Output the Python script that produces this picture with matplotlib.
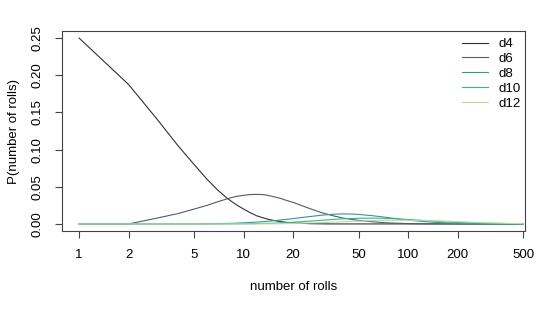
import numpy as np
import matplotlib
matplotlib.use("Agg")
import matplotlib.pyplot as plt

plt.rcParams["font.family"] = ["Liberation Sans", "DejaVu Sans"]

# number of rolls (log axis) and probabilities
rolls = [1, 2, 3, 4, 5, 6, 7, 8, 9, 10, 11, 12, 13, 14, 15, 16, 17, 18, 19, 20,
         25, 30, 35, 40, 45, 50, 60, 70, 80, 100, 120, 150, 200, 300, 400, 500]
d4 = [0.25, 0.1875, 0.14, 0.105, 0.08, 0.06, 0.045, 0.034, 0.026, 0.02,
      0.015, 0.011, 0.0085, 0.0065, 0.005, 0.0038, 0.003, 0.0023, 0.0018, 0.0014,
      0.0004, 0.0001, 0, 0, 0, 0, 0, 0, 0, 0, 0, 0, 0, 0, 0, 0]
d6 = [0, 0, 0.008, 0.014, 0.02, 0.025, 0.03, 0.034, 0.037, 0.0385,
      0.0395, 0.0398, 0.0395, 0.0385, 0.037, 0.0355, 0.034, 0.032, 0.0305, 0.029,
      0.021, 0.015, 0.011, 0.008, 0.0062, 0.0048, 0.003, 0.0018, 0.0012, 0.0005,
      0.0002, 0.0001, 0, 0, 0, 0]
d8 = [0, 0, 0, 0, 0, 0.0002, 0.0004, 0.0007, 0.001, 0.0015,
      0.002, 0.0025, 0.003, 0.0036, 0.0042, 0.0048, 0.0055, 0.006, 0.0066, 0.0072,
      0.0098, 0.0118, 0.013, 0.0135, 0.0133, 0.0128, 0.0112, 0.0095, 0.0078, 0.0052,
      0.0035, 0.002, 0.0008, 0.0002, 0.0001, 0]
d10 = [0, 0, 0, 0, 0, 0, 0, 0, 0.0001, 0.0002,
       0.0003, 0.0005, 0.0006, 0.0008, 0.001, 0.0012, 0.0015, 0.0018, 0.002, 0.0023,
       0.0037, 0.005, 0.006, 0.0068, 0.0073, 0.0076, 0.0078, 0.0076, 0.0071, 0.006,
       0.0049, 0.0035, 0.002, 0.0007, 0.0003, 0.0001]
d12 = [0, 0, 0, 0, 0, 0, 0, 0, 0, 0,
       0, 0, 0.0001, 0.0001, 0.0002, 0.0002, 0.0003, 0.0004, 0.0005, 0.0006,
       0.0012, 0.0018, 0.0024, 0.003, 0.0034, 0.0038, 0.0044, 0.0048, 0.005, 0.005,
       0.0047, 0.0041, 0.0031, 0.0016, 0.0008, 0.0004]

series = [("d4", d4), ("d6", d6), ("d8", d8), ("d10", d10), ("d12", d12)]
colors = ["#2f2f3f", "#54596e", "#2f9a96", "#3bb38f", "#bcd99c"]

xticks = [1, 2, 5, 10, 20, 50, 100, 200, 500]
yticks = [0.00, 0.05, 0.10, 0.15, 0.20, 0.25]

W, H = 540, 309
fig = plt.figure(figsize=(W / 100, H / 100), dpi=100)
ax = fig.add_axes([62 / W, 1 - 231 / H, (525 - 62) / W, 200 / H])

for (name, vals), c in zip(series, colors):
    ax.plot(rolls, vals, color=c, lw=0.8, label=name)

ax.set_xscale("log")
ax.set_xlim(0.787, 514)
ax.set_ylim(-0.0095, 0.2595)
ax.set_xticks(xticks)
ax.set_xticklabels([str(t) for t in xticks])
ax.minorticks_off()
ax.set_yticks(yticks)
ax.set_yticklabels(["%.2f" % t for t in yticks], rotation=90, va="center")

for s in ax.spines.values():
    s.set_color("#444444")
    s.set_linewidth(0.8)
ax.tick_params(direction="out", length=5, width=0.8, color="#444444",
               labelsize=9.5, pad=8)

fig.text(293.5 / W, 1 - 287 / H, "number of rolls", ha="center", va="center", fontsize=9.5)
fig.text(14 / W, 1 - 131 / H, "P(number of rolls)", ha="center", va="center",
         rotation=90, fontsize=9.5)

ax.legend(loc="upper left", bbox_to_anchor=(462 / W, 1 - 38 / H),
          bbox_transform=fig.transFigure, frameon=False, fontsize=9.5,
          handlelength=2.0, handletextpad=0.8, labelspacing=0.2,
          borderpad=0, borderaxespad=0)

fig.savefig("out.png", dpi=100)
